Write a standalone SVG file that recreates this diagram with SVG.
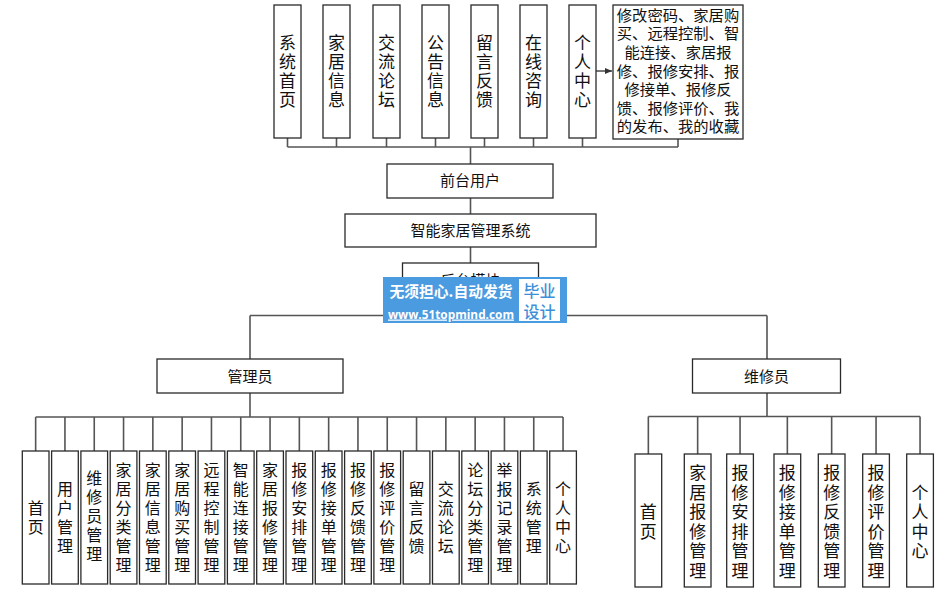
<svg xmlns="http://www.w3.org/2000/svg" width="951" height="601" viewBox="0 0 951 601">
<defs>
<style>
.box{fill:#fff;stroke:#2a2a2a;stroke-width:1.3}
.ln{fill:none;stroke:#555;stroke-width:1.6}
.t{font-family:"Noto Sans CJK SC","Liberation Sans",sans-serif;fill:#111;text-anchor:middle}
.vt{font-family:"Noto Sans CJK SC","Liberation Sans",sans-serif;fill:#111;text-anchor:middle;writing-mode:vertical-rl}
.v16{font-size:16px;letter-spacing:3px}
.v17{font-size:17px;letter-spacing:2px}
.v17b{font-size:17px;letter-spacing:2.5px}
.lab{font-size:15px}
.big{font-size:15.3px}
</style>
<marker id="arr" markerWidth="8" markerHeight="8" refX="7" refY="4" orient="auto" markerUnits="userSpaceOnUse">
<path d="M0,1 L7,4 L0,7 Z" fill="#333"/>
</marker>
</defs>
<rect width="951" height="601" fill="#fff"/>

<g id="connectors">
<path class="ln" d="M287.5,138V147M336.5,138V147M386.5,138V147M435.5,138V147M484.5,138V147M533.5,138V147M582.5,138V147M678,139V147M287.5,147H678M470.5,147V164"/>
<path class="ln" d="M470.5,198V214M470.5,247V263M470.5,297V315.5M250,315.5H767M250,315.5V359M767,315.5V359"/>
<path class="ln" d="M250,393V417M35.65,417H563.05M35.65,417V451M64.95,417V451M94.25,417V451M123.55,417V451M152.85,417V451M182.15,417V451M211.45,417V451M240.75,417V451M270.05,417V451M299.35,417V451M328.65,417V451M357.95,417V451M387.25,417V451M416.55,417V451M445.85,417V451M475.15,417V451M504.45,417V451M533.75,417V451M563.05,417V451"/>
<path class="ln" d="M767,393V416.5M648.35,416.5H920.05M648.35,416.5V454M697.65,416.5V454M740.05,416.5V454M787.35,416.5V454M831.65,416.5V454M876.05,416.5V454M920.05,416.5V454"/>
<path class="ln" d="M596,71H612" marker-end="url(#arr)"/>
</g>

<g id="top-nodes">
<g id="n-xtsy"><rect class="box" x="274" y="5" width="27" height="133"/><text class="vt v17" x="287.5" y="72.5">系统首页</text></g>
<g id="n-jjxx"><rect class="box" x="323" y="5" width="27" height="133"/><text class="vt v17" x="336.5" y="72.5">家居信息</text></g>
<g id="n-jllt"><rect class="box" x="373" y="5" width="27" height="133"/><text class="vt v17" x="386.5" y="72.5">交流论坛</text></g>
<g id="n-ggxx"><rect class="box" x="422" y="5" width="27" height="133"/><text class="vt v17" x="435.5" y="72.5">公告信息</text></g>
<g id="n-lyfk"><rect class="box" x="471" y="5" width="27" height="133"/><text class="vt v17" x="484.5" y="72.5">留言反馈</text></g>
<g id="n-zxzx"><rect class="box" x="520" y="5" width="27" height="133"/><text class="vt v17" x="533.5" y="72.5">在线咨询</text></g>
<g id="n-grzx"><rect class="box" x="569" y="5" width="27" height="133"/><text class="vt v17" x="582.5" y="72.5">个人中心</text></g>
<g id="n-grzx-detail"><rect class="box" x="613" y="5" width="130" height="134"/>
<text class="t big" x="678" y="20.8">修改密码、家居购</text>
<text class="t big" x="678" y="39.4">买、远程控制、智</text>
<text class="t big" x="678" y="58">能连接、家居报</text>
<text class="t big" x="678" y="76.6">修、报修安排、报</text>
<text class="t big" x="678" y="95.2">修接单、报修反</text>
<text class="t big" x="678" y="113.8">馈、报修评价、我</text>
<text class="t big" x="678" y="132.4">的发布、我的收藏</text></g>
</g>

<g id="n-qtyh"><rect class="box" x="387" y="164" width="166" height="34"/><text class="t lab" x="470" y="185.7">前台用户</text></g>
<g id="n-system"><rect class="box" x="345" y="214" width="251" height="33"/><text class="t lab" x="470.5" y="235.7">智能家居管理系统</text></g>
<g id="n-htmk"><rect class="box" x="402.5" y="263" width="136" height="34"/><text class="t lab" x="470.5" y="285.7">后台模块</text></g>
<g id="n-admin"><rect class="box" x="157" y="359" width="186" height="34"/><text class="t lab" x="250" y="381.7">管理员</text></g>
<g id="n-repair"><rect class="box" x="692.5" y="359" width="148" height="34"/><text class="t lab" x="766.5" y="381.7">维修员</text></g>

<g id="admin-nodes">
<g id="a0"><rect class="box" x="22.3" y="451" width="26.7" height="133"/><text class="vt v16" x="35.65" y="519">首页</text></g>
<g id="a1"><rect class="box" x="51.6" y="451" width="26.7" height="133"/><text class="vt v16" x="64.95" y="519">用户管理</text></g>
<g id="a2"><rect class="box" x="80.9" y="451" width="26.7" height="133"/><text class="vt v16" x="94.25" y="517">维修员管理</text></g>
<g id="a3"><rect class="box" x="110.2" y="451" width="26.7" height="133"/><text class="vt v16" x="123.55" y="519">家居分类管理</text></g>
<g id="a4"><rect class="box" x="139.5" y="451" width="26.7" height="133"/><text class="vt v16" x="152.85" y="519">家居信息管理</text></g>
<g id="a5"><rect class="box" x="168.8" y="451" width="26.7" height="133"/><text class="vt v16" x="182.15" y="519">家居购买管理</text></g>
<g id="a6"><rect class="box" x="198.1" y="451" width="26.7" height="133"/><text class="vt v16" x="211.45" y="519">远程控制管理</text></g>
<g id="a7"><rect class="box" x="227.4" y="451" width="26.7" height="133"/><text class="vt v16" x="240.75" y="519">智能连接管理</text></g>
<g id="a8"><rect class="box" x="256.7" y="451" width="26.7" height="133"/><text class="vt v16" x="270.05" y="519">家居报修管理</text></g>
<g id="a9"><rect class="box" x="286" y="451" width="26.7" height="133"/><text class="vt v16" x="299.35" y="519">报修安排管理</text></g>
<g id="a10"><rect class="box" x="315.3" y="451" width="26.7" height="133"/><text class="vt v16" x="328.65" y="519">报修接单管理</text></g>
<g id="a11"><rect class="box" x="344.6" y="451" width="26.7" height="133"/><text class="vt v16" x="357.95" y="519">报修反馈管理</text></g>
<g id="a12"><rect class="box" x="373.9" y="451" width="26.7" height="133"/><text class="vt v16" x="387.25" y="519">报修评价管理</text></g>
<g id="a13"><rect class="box" x="403.2" y="451" width="26.7" height="133"/><text class="vt v16" x="416.55" y="519">留言反馈</text></g>
<g id="a14"><rect class="box" x="432.5" y="451" width="26.7" height="133"/><text class="vt v16" x="445.85" y="519">交流论坛</text></g>
<g id="a15"><rect class="box" x="461.8" y="451" width="26.7" height="133"/><text class="vt v16" x="475.15" y="519">论坛分类管理</text></g>
<g id="a16"><rect class="box" x="491.1" y="451" width="26.7" height="133"/><text class="vt v16" x="504.45" y="519">举报记录管理</text></g>
<g id="a17"><rect class="box" x="520.4" y="451" width="26.7" height="133"/><text class="vt v16" x="533.75" y="519">系统管理</text></g>
<g id="a18"><rect class="box" x="549.7" y="451" width="26.7" height="133"/><text class="vt v16" x="563.05" y="519">个人中心</text></g>
</g>

<g id="repair-nodes">
<g id="r0"><rect class="box" x="635" y="454" width="26.7" height="133"/><text class="vt v17b" x="648.35" y="523">首页</text></g>
<g id="r1"><rect class="box" x="684.3" y="454" width="26.7" height="133"/><text class="vt v17b" x="697.65" y="523">家居报修管理</text></g>
<g id="r2"><rect class="box" x="726.7" y="454" width="26.7" height="133"/><text class="vt v17b" x="740.05" y="523">报修安排管理</text></g>
<g id="r3"><rect class="box" x="774" y="454" width="26.7" height="133"/><text class="vt v17b" x="787.35" y="523">报修接单管理</text></g>
<g id="r4"><rect class="box" x="818.3" y="454" width="26.7" height="133"/><text class="vt v17b" x="831.65" y="523">报修反馈管理</text></g>
<g id="r5"><rect class="box" x="862.7" y="454" width="26.7" height="133"/><text class="vt v17b" x="876.05" y="523">报修评价管理</text></g>
<g id="r6"><rect class="box" x="906.7" y="454" width="26.7" height="133"/><text class="vt v17b" x="920.05" y="523">个人中心</text></g>
</g>

<g id="watermark">
<rect x="383" y="277" width="184" height="46" fill="#4b9be0"/>
<rect x="519" y="279" width="41" height="42" fill="#fff"/>
<text x="451" y="297" font-family="'Noto Sans CJK SC',sans-serif" font-size="15" font-weight="bold" fill="#fff" text-anchor="middle" textLength="123" lengthAdjust="spacingAndGlyphs">无须担心.自动发货</text>
<text x="451" y="318.5" font-family="'Open Sans','Liberation Sans',sans-serif" font-size="13" font-weight="bold" fill="#fff" text-anchor="middle" textLength="126" lengthAdjust="spacingAndGlyphs" text-decoration="underline">www.51topmind.com</text>
<text x="539.5" y="297" font-family="'Noto Sans CJK SC',sans-serif" font-size="16" font-weight="500" fill="#3f8fd8" text-anchor="middle">毕业</text>
<text x="539.5" y="317.5" font-family="'Noto Sans CJK SC',sans-serif" font-size="16" font-weight="500" fill="#3f8fd8" text-anchor="middle">设计</text>
</g>
</svg>
